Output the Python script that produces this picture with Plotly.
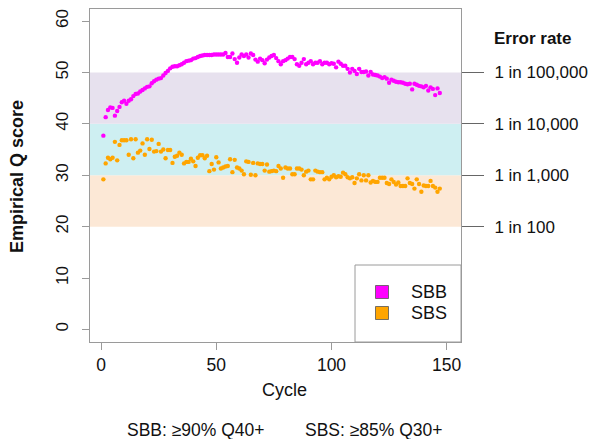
import plotly.graph_objects as go

# ---- data ----
sbb = [37.7, 41.3, 42.7, 43.2, 43.1, 41.6, 42.5, 43.3, 44.2, 44.5,
       43.9, 44.5, 44.8, 45.4, 45.8, 45.9, 46.3, 46.6, 46.9, 47.2,
       47.3, 47.9, 48.3, 48.6, 48.8, 48.9, 49.4, 49.9, 50.3, 50.8,
       51.1, 51.2, 51.2, 51.4, 51.6, 51.9, 52.2, 52.3, 52.4, 52.7,
       52.8, 53.0, 53.2, 53.3, 53.4, 53.4, 53.4, 53.4, 53.5, 53.5,
       53.5, 53.5, 53.5, 53.8, 53.0, 53.0, 53.7, 52.6, 51.9, 52.9,
       53.5, 53.2, 53.5, 52.9, 53.7, 53.4, 52.5, 52.1, 52.7, 52.4,
       51.8, 52.5, 52.9, 53.2, 53.4, 52.8, 52.2, 51.6, 52.2, 52.4,
       52.7, 53.0, 53.0, 52.6, 51.6, 51.3, 51.9, 52.6, 51.6, 51.9,
       52.2, 51.6, 51.9, 51.9, 52.2, 51.6, 51.9, 51.9, 51.6, 51.8,
       51.7, 51.0, 52.1, 51.7, 51.3, 51.3, 50.7, 50.0, 50.7, 50.3,
       49.7, 50.7, 50.1, 50.1, 50.2, 49.4, 50.1, 49.6, 49.5, 49.4,
       49.2, 48.9, 49.1, 48.8, 48.0, 48.6, 48.4, 48.2, 48.1, 48.1,
       48.0, 47.8, 47.7, 47.8, 46.7, 47.8, 47.6, 47.4, 47.3, 47.1,
       47.4, 46.5, 47.1, 46.8, 45.6, 46.9, 46.0]

sbs = [29.2, 32.3, 33.4, 33.1, 33.4, 36.5, 32.9, 35.9, 36.8, 36.8,
       36.8, 34.0, 37.0, 33.3, 37.0, 34.4, 34.8, 36.2, 34.0, 37.0,
       35.1, 36.9, 34.6, 34.7, 36.1, 34.6, 35.0, 33.3, 34.9, 34.9,
       32.4, 33.6, 33.8, 34.4, 34.0, 32.3, 32.6, 32.6, 33.2, 32.7,
       31.8, 33.4, 33.9, 33.9, 33.3, 33.8, 30.8, 32.2, 31.1, 33.5,
       32.5, 31.3, 31.5, 31.7, 31.8, 33.1, 30.6, 33.0, 31.5, 31.3,
       30.9, 30.2, 32.7, 32.6, 30.1, 32.4, 30.0, 32.3, 32.2, 32.2,
       30.9, 32.1, 30.7, 30.8, 30.9, 30.8, 31.8, 31.3, 29.5, 31.5,
       31.3, 31.3, 30.2, 30.2, 31.3, 31.3, 31.1, 30.0, 30.7, 30.9,
       29.2, 29.2, 30.9, 30.7, 30.6, 30.6, 29.2, 29.5, 29.2, 29.7,
       30.0, 29.6, 29.8, 29.7, 30.5, 30.2, 29.6, 29.4, 29.6, 28.5,
       29.4, 30.2, 29.0, 30.0, 29.0, 30.0, 28.6, 28.9, 28.7, 28.7,
       29.5, 29.5, 29.5, 28.5, 28.3, 29.2, 28.7, 28.2, 28.6, 27.9,
       27.9, 27.9, 29.4, 28.5, 28.3, 27.4, 29.2, 28.3, 26.8, 28.0,
       27.9, 27.9, 28.9, 27.9, 27.6, 26.8, 27.4]

sbb_cycles = list(range(1, len(sbb) + 1))
sbs_cycles = list(range(1, len(sbs) + 1))

band_edges = [20, 30, 40, 50]
band_colors = ["#FCE8D6", "#CEEFF2", "#E7E1EE"]
x_ticks = [0, 50, 100, 150]
y_ticks = [0, 10, 20, 30, 40, 50, 60]
err_ticks = [20, 30, 40, 50]
err_labels = ["1 in 100", "1 in 1,000", "1 in 10,000", "1 in 100,000"]
series_names = ["SBB", "SBS"]
series_colors = ["#FF00FF", "#FFA500"]

FONT = "Liberation Sans, Arial, Helvetica, sans-serif"
W, H = 597, 439
L, R, T, B = 90, 461, 9, 342
GRAY = "#9A9A9A"

def px(xp):
    return (xp - L) / (R - L)

def py(yp):
    return (B - yp) / (B - T)

fig = go.Figure()

fig.add_trace(go.Scatter(x=sbb_cycles, y=sbb, mode="markers", name=series_names[0],
                         marker=dict(color=series_colors[0], size=4.4, line=dict(width=0)),
                         showlegend=False))
fig.add_trace(go.Scatter(x=sbs_cycles, y=sbs, mode="markers", name=series_names[1],
                         marker=dict(color=series_colors[1], size=4.4, line=dict(width=0)),
                         showlegend=False))
# invisible trace to activate the right axis
fig.add_trace(go.Scatter(x=[None], y=[None], yaxis="y2", showlegend=False, hoverinfo="skip"))

shapes = []
for i, c in enumerate(band_colors):
    shapes.append(dict(type="rect", xref="paper", yref="y", x0=0, x1=1,
                       y0=band_edges[i], y1=band_edges[i + 1],
                       fillcolor=c, line=dict(width=0), layer="below"))

# legend box
shapes.append(dict(type="rect", xref="paper", yref="paper",
                   x0=px(355), x1=1, y0=0, y1=py(265),
                   fillcolor="white", line=dict(color=GRAY, width=1), layer="above"))
annotations = []
for i, (nm, col) in enumerate(zip(series_names, series_colors)):
    cy = 292 + 21 * i
    shapes.append(dict(type="rect", xref="paper", yref="paper",
                       x0=px(375.5), x1=px(388.5), y0=py(cy + 6.5), y1=py(cy - 6.5),
                       fillcolor=col, line=dict(color="#555555", width=0.8), layer="above"))
    annotations.append(dict(xref="paper", yref="paper", x=px(409), y=py(cy),
                            text=nm, showarrow=False, xanchor="left", yanchor="middle",
                            font=dict(size=18, color="#111111", family=FONT)))

annotations += [
    dict(xref="paper", yref="paper", x=px(17), y=py(177), text="<b>Empirical Q score</b>",
         textangle=-90, showarrow=False, xanchor="center", yanchor="middle",
         font=dict(size=18, color="#111111", family=FONT)),
    dict(xref="paper", yref="paper", x=px(284), y=py(390), text="Cycle",
         showarrow=False, xanchor="center", yanchor="middle",
         font=dict(size=18, color="#111111", family=FONT)),
    dict(xref="paper", yref="paper", x=px(196), y=py(430),
         text="SBB: \u226590% Q40+",
         showarrow=False, xanchor="center", yanchor="middle",
         font=dict(size=17.5, color="#111111", family=FONT)),
    dict(xref="paper", yref="paper", x=px(374), y=py(430),
         text="SBS: \u226585% Q30+",
         showarrow=False, xanchor="center", yanchor="middle",
         font=dict(size=17.5, color="#111111", family=FONT)),
    dict(xref="paper", yref="paper", x=px(492), y=py(39), text="<b>Error rate</b>",
         showarrow=False, xanchor="left", yanchor="middle",
         font=dict(size=17, color="#111111", family=FONT)),
]

fig.update_layout(
    width=W, height=H,
    margin=dict(l=L, r=W - R, t=T, b=H - B, autoexpand=False),
    paper_bgcolor="white", plot_bgcolor="white",
    font=dict(family=FONT, size=17, color="#111111"),
    xaxis=dict(range=[-4.8, 156.2], tickvals=x_ticks, ticks="outside", ticklen=7,
               tickcolor=GRAY, showline=True, linecolor=GRAY, mirror=True,
               showgrid=False, zeroline=False, automargin=False,
               tickfont=dict(size=17.5, color="#111111")),
    yaxis=dict(range=[-2.45, 62.35], tickvals=y_ticks, ticks="outside", ticklen=7,
               tickcolor=GRAY, showline=True, linecolor=GRAY, mirror=True,
               showgrid=False, zeroline=False, tickangle=-90, automargin=False,
               tickfont=dict(size=17, color="#111111"), ticklabelstandoff=7),
    yaxis2=dict(range=[-2.45, 62.35], overlaying="y", side="right",
                tickvals=err_ticks, ticktext=err_labels, ticks="outside", ticklen=22,
                tickcolor="#666666", showline=False, showgrid=False, zeroline=False,
                automargin=False,
                tickfont=dict(size=17, color="#111111"), ticklabelstandoff=7),
    shapes=shapes, annotations=annotations,
)

fig.write_html("out.html", config={"displayModeBar": False},
               post_script="document.body.style.margin='0';document.body.style.overflow='hidden';")
